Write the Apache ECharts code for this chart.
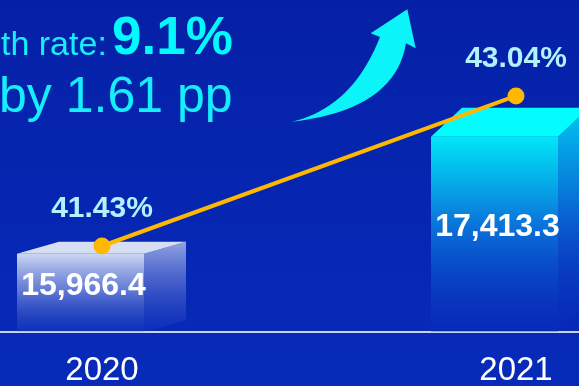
<!DOCTYPE html>
<html>
<head>
<meta charset="utf-8">
<script src="https://cdn.jsdelivr.net/npm/echarts@6/dist/echarts.min.js"></script>
<style>
html,body{margin:0;padding:0;background:#0625ae;}
#chart{width:579px;height:386px;}
</style>
</head>
<body>
<div id="chart"></div>
<script>
// ---- data ----
const categories = ['2020', '2021'];
const amounts = [15966.4, 17413.3];
const rates = [41.43, 43.04];
const titleLabel = 'th rate:';
const titleValue = '9.1%';
const subtitle = 'by 1.61 pp';

// ---- scales ----
const AMOUNT_MIN = 15000, AMOUNT_MAX = 19106;
const RATE_MIN = 40.507, RATE_MAX = 44.07;
const FONT = '"Liberation Sans", Arial, sans-serif';

const chart = echarts.init(document.getElementById('chart'));
const LG = (stops) => new echarts.graphic.LinearGradient(0, 0, 0, 1, stops);

const BOX_DEPTH = [[42, 12], [31, 29]];
const BOX_STYLE = [
  {
    front: LG([{offset:0,color:'rgba(215,224,247,0.95)'},{offset:0.45,color:'rgba(160,178,232,0.62)'},{offset:1,color:'rgba(60,90,205,0.15)'}]),
    side: LG([{offset:0,color:'rgba(180,194,236,0.8)'},{offset:0.5,color:'rgba(125,145,222,0.45)'},{offset:1,color:'rgba(60,90,205,0.1)'}]),
    top: '#d6def4'
  },
  {
    front: LG([{offset:0,color:'#00e6f8'},{offset:0.45,color:'#0a74da'},{offset:1,color:'rgba(10,45,190,0.3)'}]),
    side: LG([{offset:0,color:'#00c6ef'},{offset:0.5,color:'#0a5fd2'},{offset:1,color:'rgba(10,45,190,0.2)'}]),
    top: '#03fdff'
  }
];

function renderBox(params, api) {
  const i = params.dataIndex;
  const v = api.value(1);
  const top = api.coord([api.value(0), v]);
  const bot = api.coord([api.value(0), AMOUNT_MIN]);
  const cx = top[0];
  const x0 = cx - 85, x1 = cx + 42;
  const yT = top[1], yB = bot[1];
  const d = BOX_DEPTH[i], st = BOX_STYLE[i];
  const txt = v.toLocaleString('en-US', {minimumFractionDigits: 1, maximumFractionDigits: 1});
  return {
    type: 'group',
    children: [
      {type:'polygon', shape:{points:[[x1,yT],[x1+d[0],yT-d[1]],[x1+d[0],yB-d[1]],[x1,yB]]}, style:{fill:st.side}},
      {type:'polygon', shape:{points:[[x0,yT],[x1,yT],[x1,yB],[x0,yB]]}, style:{fill:st.front}},
      {type:'polygon', shape:{points:[[x0,yT],[x0+d[0],yT-d[1]],[x1+d[0],yT-d[1]],[x1,yT]]}, style:{fill:st.top}},
      {type:'text', style:{text:txt, x:(x0+x1)/2 + 3, y:(yT+yB)/2 - 7, align:'center', verticalAlign:'middle',
        fill:'#ffffff', fontSize:32, fontWeight:'bold', fontFamily:FONT}}
    ]
  };
}

// decorative arrow outline (quadratic curves sampled into a polygon)
function quad(p0, c, p1, n) {
  const pts = [];
  for (let k = 0; k <= n; k++) {
    const t = k / n, u = 1 - t;
    pts.push([u*u*p0[0] + 2*u*t*c[0] + t*t*p1[0], u*u*p0[1] + 2*u*t*c[1] + t*t*p1[1]]);
  }
  return pts;
}
const arrowPts = [].concat(
  quad([291.7,121.7],[352,108],[380,37],20),
  [[370.7,33.3],[407.3,9.3],[415.7,48.3]],
  quad([406,43.3],[395,110],[291.7,121.7],20)
);

const option = {
  backgroundColor: new echarts.graphic.LinearGradient(0, 0, 0, 1, [
    {offset:0, color:'#0520a6'}, {offset:0.6, color:'#0627b3'}, {offset:1, color:'#072bb9'}
  ]),
  animation: false,
  grid: {left: -105, right: -144, top: 0, bottom: 54, containLabel: false, outerBoundsMode: 'none'},
  xAxis: {
    type: 'category',
    data: categories,
    boundaryGap: true,
    axisLine: {onZero: false, lineStyle: {color: '#cdd3ef', width: 2}},
    axisTick: {show: false},
    axisLabel: {color: '#ffffff', fontSize: 33, fontFamily: FONT, margin: 22}
  },
  yAxis: [
    {type: 'value', min: AMOUNT_MIN, max: AMOUNT_MAX, show: false, splitLine: {show: false}},
    {type: 'value', min: RATE_MIN, max: RATE_MAX, show: false, splitLine: {show: false}}
  ],
  graphic: [
    {type:'text', x: 1, y: 45.5, style:{text: titleLabel, fill:'#16eefe', fontSize:34, fontFamily:FONT, verticalAlign:'middle'}},
    {type:'text', x: 112, y: 39.6, style:{text: titleValue, fill:'#00fbff', fontSize:53, fontWeight:'bold', fontFamily:FONT, verticalAlign:'middle'}},
    {type:'text', x: -1, y: 98, style:{text: subtitle, fill:'#16eefe', fontSize:50, fontFamily:FONT, verticalAlign:'middle'}},
    {type:'polygon', shape:{points: arrowPts}, style:{fill:'#0af4fa'}}
  ],
  series: [
    {
      type: 'custom',
      renderItem: renderBox,
      yAxisIndex: 0,
      data: categories.map((c, i) => [i, amounts[i]]),
      z: 2
    },
    {
      type: 'line',
      yAxisIndex: 1,
      data: rates,
      z: 5,
      symbol: 'circle',
      symbolSize: 17,
      lineStyle: {color: '#ffb800', width: 4},
      itemStyle: {color: '#ffb800'},
      label: {
        show: true, position: 'top', distance: 14,
        formatter: p => p.value.toFixed(2) + '%',
        color: '#b2f2ff', fontSize: 30, fontWeight: 'bold', fontFamily: FONT
      }
    }
  ]
};
chart.setOption(option);
</script>
</body>
</html>
